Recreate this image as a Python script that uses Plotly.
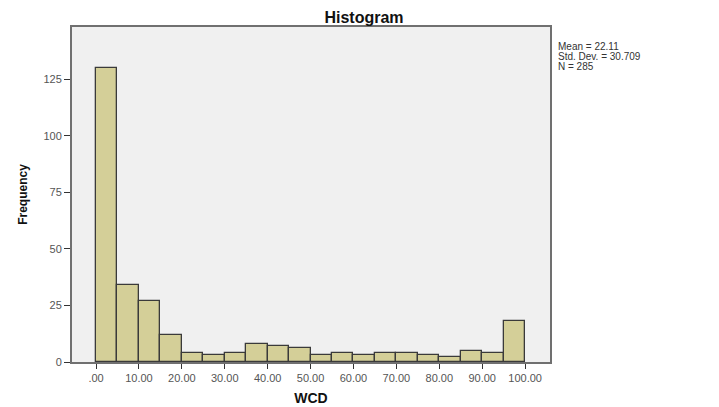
import plotly.graph_objects as go

bin_starts = [0, 5, 10, 15, 20, 25, 30, 35, 40, 45, 50, 55, 60, 65, 70, 75, 80, 85, 90, 95]
bin_width = 5
counts = [130, 34, 27, 12, 4, 3, 4, 8, 7, 6, 3, 4, 3, 4, 4, 3, 2, 5, 4, 18]
x_tick_vals = [0, 10, 20, 30, 40, 50, 60, 70, 80, 90, 100]
x_tick_text = [".00", "10.00", "20.00", "30.00", "40.00", "50.00", "60.00", "70.00", "80.00", "90.00", "100.00"]
y_tick_vals = [0, 25, 50, 75, 100, 125]
stats_lines = ["Mean = 22.11", "Std. Dev. = 30.709", "N = 285"]

centers = [s + bin_width / 2 for s in bin_starts]
FONT = "Liberation Sans, Arial, sans-serif"

fig = go.Figure()
fig.add_trace(go.Bar(
    x=centers, y=counts, width=[bin_width] * len(counts),
    marker=dict(color="#d4cf98", line=dict(color="#3a3a3a", width=1.3)),
    hoverinfo="x+y",
))

fig.update_layout(
    width=719, height=407,
    margin=dict(l=72, r=169, t=27, b=45, autoexpand=False),
    paper_bgcolor="white", plot_bgcolor="#f0f0f0",
    showlegend=False, bargap=0,
    font=dict(family=FONT, color="#333"),
    title=dict(text="<b>Histogram</b>", x=364 / 719, xanchor="center",
               y=1 - 17 / 407, yanchor="middle",
               font=dict(size=16, color="#111", family=FONT)),
)
fig.update_xaxes(
    range=[-5.6, 105.8], tickvals=x_tick_vals, ticktext=x_tick_text,
    ticks="outside", ticklen=5, tickcolor="#333", tickwidth=1.3,
    showline=True, linecolor="#707070", linewidth=2, mirror=True,
    showgrid=False, zeroline=False, automargin=False,
    tickfont=dict(size=11, color="#555"),
    title=dict(text="<b>WCD</b>", font=dict(size=14, color="#111"), standoff=10),
)
fig.update_yaxes(
    range=[0, 148], tickvals=y_tick_vals,
    ticks="outside", ticklen=6, tickcolor="#333", tickwidth=1.3,
    showline=True, linecolor="#707070", linewidth=2, mirror=True,
    showgrid=False, zeroline=False, automargin=False,
    tickfont=dict(size=11, color="#555"),
    title=dict(text="<b>Frequency</b>", font=dict(size=12, color="#111"), standoff=13),
)

for i, line in enumerate(stats_lines):
    fig.add_annotation(
        text=line, xref="paper", yref="paper",
        x=(557 - 72) / (550 - 72), xanchor="left",
        y=1 - (46.5 + 10 * i - 27) / (362 - 27), yanchor="middle",
        showarrow=False, borderpad=0,
        font=dict(size=10, color="#333", family=FONT),
    )

fig.write_html("out.html")
